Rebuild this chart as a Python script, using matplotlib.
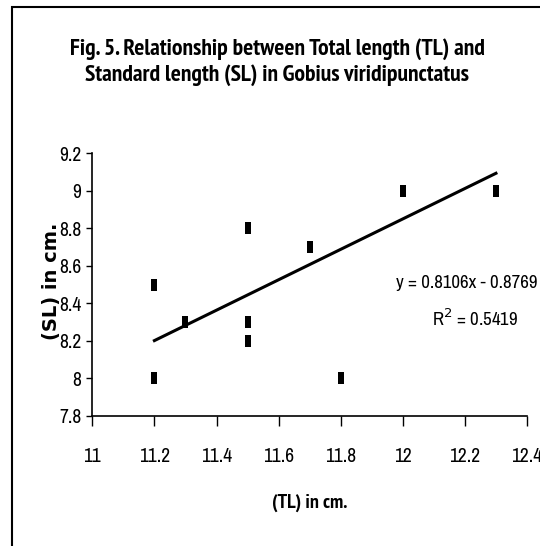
import numpy as np
import matplotlib
matplotlib.use("Agg")
import matplotlib.pyplot as plt
from matplotlib import font_manager
from matplotlib.font_manager import FontProperties
from matplotlib.patches import Rectangle


# the chart uses Arial Narrow; look for any narrow/condensed face on the system
def narrow_font(bold):
    hits = []
    for f in font_manager.fontManager.ttflist:
        low = f.fname.lower().replace("-", "").replace("_", "")
        if "italic" in low or "oblique" in low:
            continue
        if "semicondensed" in low or "extracondensed" in low or "ultracondensed" in low:
            continue
        if not ("narrow" in low or "condensed" in low):
            continue
        is_bold = f.weight in ("bold", 700) or "bold" in low
        if bold != is_bold:
            continue
        if not bold and any(k in low for k in ("light", "thin", "medium", "black", "semibold")):
            continue
        rank = 0 if "narrow" in low else 1
        hits.append((rank, f.fname))
    if hits:
        hits.sort()
        return FontProperties(fname=hits[0][1])
    return FontProperties(family="Liberation Sans", weight="bold" if bold else "normal")


reg = narrow_font(False)
bold = narrow_font(True)

# data
TL = [11.2, 11.2, 11.3, 11.5, 11.5, 11.5, 11.7, 11.8, 12.0, 12.3]
SL = [8.5, 8.0, 8.3, 8.8, 8.3, 8.2, 8.7, 8.0, 9.0, 9.0]
slope = 0.8106
intercept = -0.8769
r2 = 0.5419

xticks = [11, 11.2, 11.4, 11.6, 11.8, 12, 12.2, 12.4]
yticks = [7.8, 8, 8.2, 8.4, 8.6, 8.8, 9, 9.2]

fig = plt.figure(figsize=(5.4, 5.46), dpi=100)
# outer chart border (right/bottom cut off in the original)
fig.patches.append(Rectangle((12 / 540, -0.1), 1.2, 1 - 7 / 546 + 0.1,
                             transform=fig.transFigure, fill=False,
                             edgecolor="black", linewidth=1.5))

ax = fig.add_axes([92.3 / 540, 1 - 416 / 546, (527 - 92.3) / 540, (416 - 153.3) / 546])

# rectangular black markers, taller than wide
bar_marker = [(-0.28, -0.5), (0.28, -0.5), (0.28, 0.5), (-0.28, 0.5), (-0.28, -0.5)]
ax.plot(TL, SL, linestyle="none", marker=bar_marker, markersize=8,
        color="black", markeredgewidth=0)

xl = np.array([min(TL), max(TL)])
ax.plot(xl, slope * xl + intercept, color="black", linewidth=2.2)

ax.set_xlim(11, 12.4)
ax.set_ylim(7.8, 9.2)
ax.set_xticks(xticks)
ax.set_yticks(yticks)
ax.set_xticklabels([f"{t:g}" for t in xticks], fontproperties=reg, fontsize=14)
ax.set_yticklabels([f"{t:g}" for t in yticks], fontproperties=reg, fontsize=14)
ax.tick_params(axis="x", direction="out", length=7, width=1, pad=15)
ax.tick_params(axis="y", direction="out", length=4, width=1, pad=4)
for s in ["top", "right"]:
    ax.spines[s].set_visible(False)
for s in ["left", "bottom"]:
    ax.spines[s].set_linewidth(1.2)

ax.set_xlabel("(TL) in cm.", fontproperties=bold, fontsize=14.5, labelpad=20)
ax.set_ylabel("(SL) in cm.", family="DejaVu Sans", fontweight="bold", fontsize=14)
ax.yaxis.label.set_verticalalignment("center")
ax.yaxis.set_label_coords(-0.095, 0.512)

ax.text(538 / 540, 1 - 283 / 546, f"y = {slope}x - {abs(intercept)}",
        transform=fig.transFigure, ha="right", va="center",
        fontproperties=reg, fontsize=13.5)
ax.text(475 / 540, 1 - 318 / 546, f"R$^2$ = {r2}",
        transform=fig.transFigure, ha="center", va="center",
        fontproperties=reg, fontsize=13.5)

fig.text(277 / 540, 1 - 62 / 546,
         "Fig. 5. Relationship between Total length (TL) and\n"
         "Standard length (SL) in Gobius viridipunctatus",
         ha="center", va="center", fontproperties=bold,
         fontsize=17, linespacing=1.3)

fig.savefig("out.png", dpi=100)
